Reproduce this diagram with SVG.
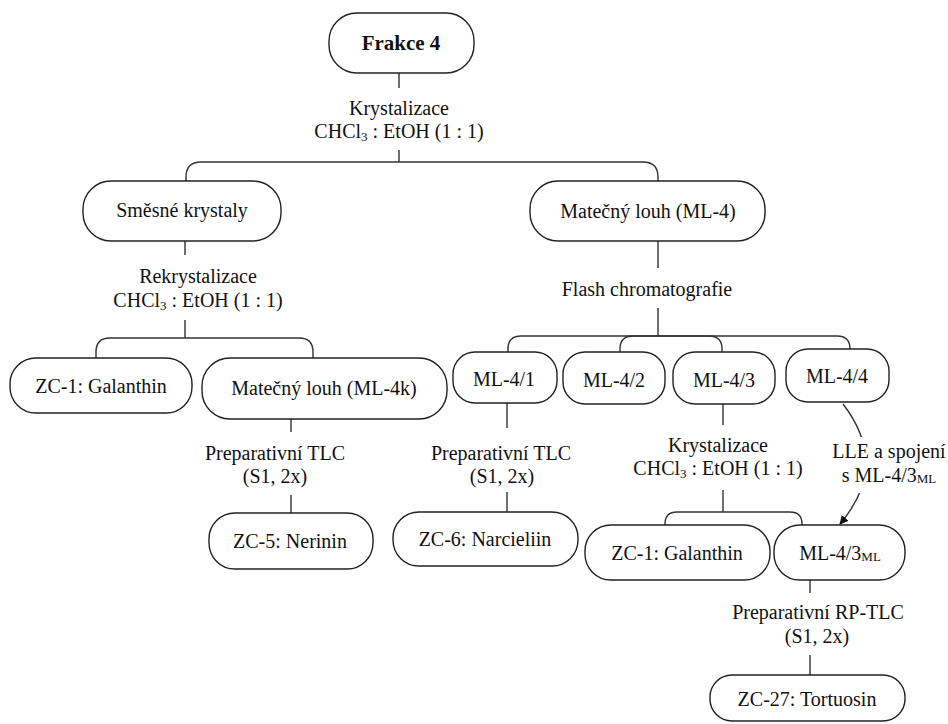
<svg xmlns="http://www.w3.org/2000/svg" width="948" height="724" viewBox="0 0 948 724">
  <defs>
    <style>
      .box { fill: #ffffff; stroke: #222222; stroke-width: 1.4; }
      .wire { fill: none; stroke: #333333; stroke-width: 1.4; }
      text { font-family: "Liberation Serif", "Times New Roman", serif; font-size: 20px; fill: #111111; text-anchor: middle; }
      .title { font-weight: bold; font-size: 21px; }
      .sub { font-size: 13px; }
    </style>
    <marker id="arrowhead" viewBox="0 0 10 10" refX="9" refY="5" markerWidth="9" markerHeight="9" markerUnits="userSpaceOnUse" orient="auto">
      <path d="M0 0 L10 5 L0 10 Z" fill="#111111"/>
    </marker>
  </defs>
  <rect width="948" height="724" fill="#ffffff"/>

  <!-- connectors: stems, brackets and the LLE arrow -->
  <g id="connectors">
    <path class="wire" d="M399 73 V88 M399 150 V162"/>
    <path class="wire" d="M186 181 V177 Q186 162 201 162 H643 Q658 162 658 177 V181"/>
    <path class="wire" d="M185 241 V255 M185 320 V338"/>
    <path class="wire" d="M96 358 V352 Q96 338 110 338 H299 Q313 338 313 352 V358"/>
    <path class="wire" d="M291 419 V432 M291 495 V513"/>
    <path class="wire" d="M658 241 V268 M658 308 V336"/>
    <path class="wire" d="M508 352 V349 Q508 336 521 336 H837 Q850 336 850 349"/>
    <path class="wire" d="M620 352 V349 Q620 336 633 336 H709 Q722 336 722 349 V352"/>
    <path class="wire" d="M507 403 V428 M507 492 V512"/>
    <path class="wire" d="M723 404 V425 M723 490 V512"/>
    <path class="wire" d="M665 525 V524 Q665 512 677 512 H790 Q802 512 802 524 V525"/>
    <path class="wire" d="M810 580 V593 M810 655 V675"/>
    <path class="wire" d="M843 404 Q890 465 840 524" marker-end="url(#arrowhead)"/>
  </g>

  <!-- process steps (labels on the connectors) -->
  <g id="step-krystalizace">
    <text x="399" y="115">Krystalizace</text>
    <text x="399" y="138">CHCl<tspan class="sub" dy="3">3</tspan><tspan dy="-3"> : EtOH (1 : 1)</tspan></text>
  </g>
  <g id="step-rekrystalizace">
    <text x="198" y="283">Rekrystalizace</text>
    <text x="198" y="307">CHCl<tspan class="sub" dy="3">3</tspan><tspan dy="-3"> : EtOH (1 : 1)</tspan></text>
  </g>
  <g id="step-flash">
    <text x="647" y="296">Flash chromatografie</text>
  </g>
  <g id="step-tlc-4k">
    <text x="275" y="460">Preparativní TLC</text>
    <text x="275" y="483">(S1, 2x)</text>
  </g>
  <g id="step-tlc-41">
    <text x="501" y="460">Preparativní TLC</text>
    <text x="502" y="483">(S1, 2x)</text>
  </g>
  <g id="step-krystalizace-43">
    <text x="718" y="452">Krystalizace</text>
    <text x="718" y="475">CHCl<tspan class="sub" dy="3">3</tspan><tspan dy="-3"> : EtOH (1 : 1)</tspan></text>
  </g>
  <g id="step-lle">
    <rect x="812" y="437" width="136" height="56" fill="#ffffff"/>
    <text x="889" y="458">LLE a spojení</text>
    <text x="889" y="482">s ML-4/3<tspan class="sub" dy="1">ML</tspan></text>
  </g>
  <g id="step-rptlc">
    <text x="818" y="619">Preparativní RP-TLC</text>
    <text x="817" y="643">(S1, 2x)</text>
  </g>

  <!-- nodes -->
  <g id="frakce-4">
    <rect class="box" x="329" y="13" width="145" height="60" rx="28"/>
    <text class="title" x="401" y="50">Frakce 4</text>
  </g>
  <g id="smesne-krystaly">
    <rect class="box" x="83" y="181" width="198" height="60" rx="28"/>
    <text x="182" y="217">Směsné krystaly</text>
  </g>
  <g id="ml-4">
    <rect class="box" x="530" y="181" width="235" height="60" rx="28"/>
    <text x="648" y="218">Matečný louh (ML-4)</text>
  </g>
  <g id="zc-1-a">
    <rect class="box" x="10" y="358" width="182" height="55" rx="26"/>
    <text x="101" y="393">ZC-1: Galanthin</text>
  </g>
  <g id="ml-4k">
    <rect class="box" x="202" y="358" width="245" height="61" rx="28"/>
    <text x="324" y="395">Matečný louh (ML-4k)</text>
  </g>
  <g id="ml-4-1">
    <rect class="box" x="453" y="352" width="104" height="51" rx="22"/>
    <text x="504" y="386">ML-4/1</text>
  </g>
  <g id="ml-4-2">
    <rect class="box" x="563" y="352" width="102" height="52" rx="22"/>
    <text x="614" y="387">ML-4/2</text>
  </g>
  <g id="ml-4-3">
    <rect class="box" x="673" y="352" width="102" height="52" rx="22"/>
    <text x="724" y="387">ML-4/3</text>
  </g>
  <g id="ml-4-4">
    <rect class="box" x="786" y="349" width="103" height="53" rx="22"/>
    <text x="837" y="383">ML-4/4</text>
  </g>
  <g id="zc-5">
    <rect class="box" x="209" y="513" width="164" height="56" rx="26"/>
    <text x="290" y="548">ZC-5: Nerinin</text>
  </g>
  <g id="zc-6">
    <rect class="box" x="393" y="512" width="185" height="54" rx="26"/>
    <text x="485" y="546">ZC-6: Narcieliin</text>
  </g>
  <g id="zc-1-b">
    <rect class="box" x="585" y="525" width="185" height="55" rx="26"/>
    <text x="677" y="560">ZC-1: Galanthin</text>
  </g>
  <g id="ml-4-3ml">
    <rect class="box" x="774" y="525" width="131" height="55" rx="26"/>
    <text x="840" y="560">ML-4/3<tspan class="sub" dy="1">ML</tspan></text>
  </g>
  <g id="zc-27">
    <rect class="box" x="710" y="675" width="195" height="46" rx="22"/>
    <text x="807" y="706">ZC-27: Tortuosin</text>
  </g>
</svg>
